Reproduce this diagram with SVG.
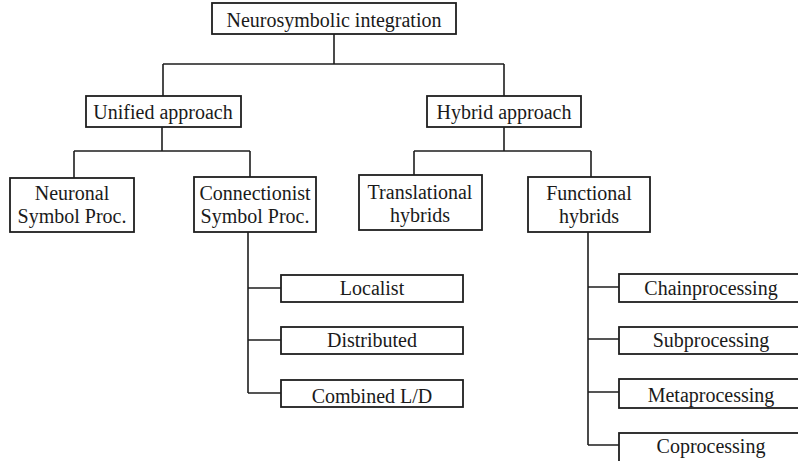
<svg xmlns="http://www.w3.org/2000/svg" width="798" height="461" viewBox="0 0 798 461">
<style>
.box{fill:#fff;stroke:#1e1e1e;stroke-width:1.8}
.ln{fill:none;stroke:#1e1e1e;stroke-width:1.6}
text{font-family:"Liberation Serif","Times New Roman",serif;font-size:20px;fill:#1a1a1a;text-anchor:middle}
</style>
<rect width="798" height="461" fill="#fff"/>
<g id="connectors">
<path class="ln" d="M334 34V64M163 64H504M163 64V96M504 64V96"/>
<path class="ln" d="M162 127V151M74 151H250M74 151V178M250 151V177"/>
<path class="ln" d="M504 127V151M414 151H591M414 151V175M591 151V177"/>
<path class="ln" d="M248 232V393M248 288H281M248 340H281M248 393H281"/>
<path class="ln" d="M588 232V445M588 287H619M588 339H619M588 392H619M588 445H619"/>
</g>
<g id="root"><rect class="box" x="212" y="3" width="244" height="31"/><text x="334" y="27">Neurosymbolic integration</text></g>
<g id="unified"><rect class="box" x="86" y="96" width="155" height="31"/><text x="163" y="119">Unified approach</text></g>
<g id="hybrid"><rect class="box" x="427" y="96" width="154" height="31"/><text x="504" y="119">Hybrid approach</text></g>
<g id="neuronal"><rect class="box" x="10" y="178" width="124" height="54"/><text x="72" y="200">Neuronal</text><text x="72" y="223">Symbol Proc.</text></g>
<g id="connectionist"><rect class="box" x="194" y="177" width="122" height="55"/><text x="255" y="200">Connectionist</text><text x="255" y="223">Symbol Proc.</text></g>
<g id="translational"><rect class="box" x="359" y="175" width="123" height="55"/><text x="420" y="199">Translational</text><text x="420" y="222">hybrids</text></g>
<g id="functional"><rect class="box" x="528" y="177" width="122" height="55"/><text x="589" y="200">Functional</text><text x="589" y="223">hybrids</text></g>
<g id="localist"><rect class="box" x="281" y="275" width="182" height="27"/><text x="372" y="295">Localist</text></g>
<g id="distributed"><rect class="box" x="281" y="327" width="182" height="27"/><text x="372" y="347">Distributed</text></g>
<g id="combined"><rect class="box" x="281" y="380" width="182" height="27"/><text x="372" y="403">Combined L/D</text></g>
<g id="chain"><rect class="box" x="619" y="274" width="186" height="28"/><text x="711" y="295">Chainprocessing</text></g>
<g id="sub"><rect class="box" x="619" y="327" width="186" height="27"/><text x="711" y="347">Subprocessing</text></g>
<g id="meta"><rect class="box" x="619" y="379" width="186" height="29"/><text x="711" y="402">Metaprocessing</text></g>
<g id="co"><rect class="box" x="619" y="433" width="186" height="29"/><text x="711" y="453">Coprocessing</text></g>
</svg>
